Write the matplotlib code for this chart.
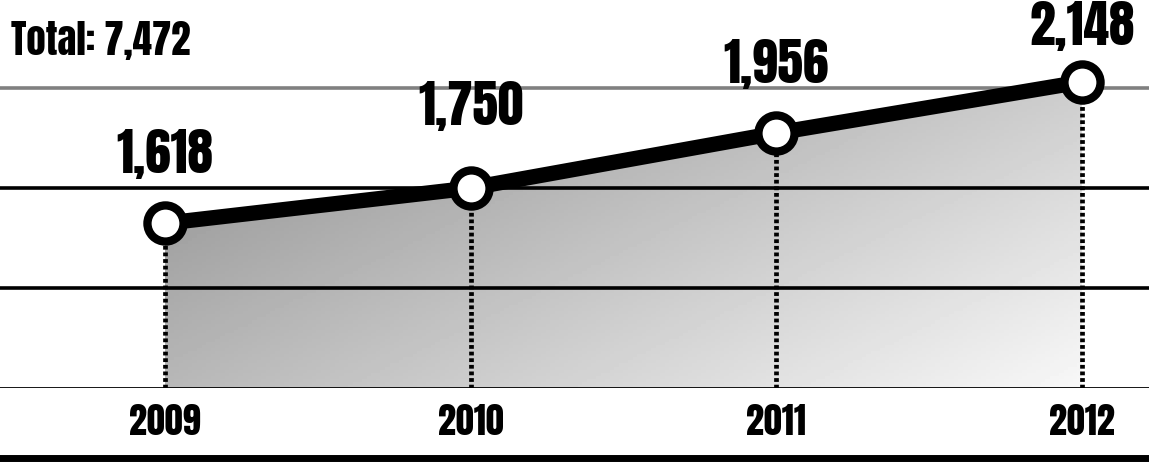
import numpy as np
import matplotlib
matplotlib.use("Agg")
import matplotlib.pyplot as plt
from matplotlib.patches import Polygon

# datos del gráfico
years = [2009, 2010, 2011, 2012]
values = [1618, 1750, 1956, 2148]
labels = ["1,618", "1,750", "1,956", "2,148"]
total_label = "Total: 7,472"
grid_levels = [1000, 1375, 1750, 2125]

# separación de las etiquetas respecto al punto (puntos tipográficos)
label_offsets = [50, 59, 50, 40]

fam = ["Anton", "IBM Plex Sans Condensed", "DejaVu Sans Condensed"]

fig = plt.figure(figsize=(11.49, 4.62), dpi=100)
ax = fig.add_axes([0, 0.16, 1, 0.84])
ax.set_xlim(2008.46, 2012.22)
ax.set_ylim(1000, 2455)
ax.axis("off")

# líneas horizontales
ax.axhline(grid_levels[3], color="#808080", lw=2.6, zorder=1)
ax.axhline(grid_levels[2], color="black", lw=2.6, zorder=3)
ax.axhline(grid_levels[1], color="black", lw=2.6, zorder=3)
ax.axhline(grid_levels[0], color="black", lw=2.0, zorder=3)

# área con degradado gris
poly = Polygon(list(zip(years, values)) + [(years[-1], 1000), (years[0], 1000)],
               closed=True, facecolor="none", edgecolor="none")
ax.add_patch(poly)
gx, gy = np.meshgrid(np.linspace(0, 1, 200), np.linspace(0, 1, 100))
grad = 0.55 + 0.25 * gx + 0.17 * gy
im = ax.imshow(grad, extent=(years[0], years[-1], 1000, max(values)), origin="upper",
               cmap="gray", vmin=0, vmax=1, aspect="auto", zorder=2)
im.set_clip_path(poly)

# líneas verticales punteadas
for x, v in zip(years, values):
    ax.plot([x, x], [1000, v], color="black", lw=3.4, ls=(0, (0.8, 0.6)), zorder=4)

# línea y puntos
ax.plot(years, values, color="black", lw=11, solid_capstyle="round", zorder=5)
ax.plot(years, values, "o", ms=26, mfc="white", mec="black", mew=6, zorder=6)

for x, v, t, off in zip(years, values, labels, label_offsets):
    ax.annotate(t, (x, v), xytext=(0, off), textcoords="offset points",
                ha="center", va="center", fontsize=37,
                family=fam, zorder=7)

fig.text(0.01, 0.912, total_label, ha="left", va="center", fontsize=28,
         family=fam)

for x in years:
    ax.text(x, 876, str(x), ha="center", va="center",
            fontsize=26, family=fam)

# línea inferior gruesa
fig.add_artist(plt.Line2D([0, 1], [0.008, 0.008], color="black", lw=5,
                          transform=fig.transFigure))

fig.savefig("out.png", dpi=100, facecolor="white")
